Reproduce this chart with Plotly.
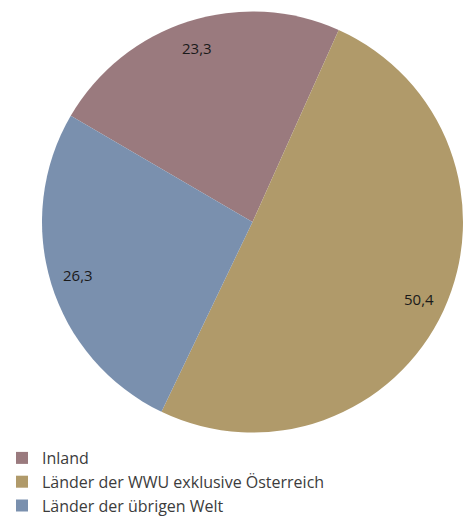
import math
import plotly.graph_objects as go

labels = ["Inland", "Länder der WWU exklusive Österreich", "Länder der übrigen Welt"]
values = [23.3, 50.4, 26.3]
text_labels = ["23,3", "50,4", "26,3"]
colors = ["#9a7a7e", "#b09a6a", "#7a90ae"]

W, H = 463, 523
rotation = 300.3  # start angle (degrees clockwise from top) of first slice

CX, CY, R = 253, 222, 211  # pie centre / radius in px (from top-left)
dom_x = [(CX - R) / W, min(1.0, (CX + R) / W)]
dom_y = [1 - (CY + R) / H, 1 - (CY - R) / H]

fig = go.Figure()
fig.add_trace(go.Pie(
    labels=labels, values=values, sort=False, direction="clockwise",
    rotation=rotation, marker=dict(colors=colors, line=dict(width=0)),
    textinfo="none", hoverinfo="label+value",
    domain=dict(x=dom_x, y=dom_y),
))

# value labels near outer rim at mid-angle of each slice
total = sum(values)
start = rotation
for v, t in zip(values, text_labels):
    mid = math.radians(start + v / total * 360 / 2)
    start += v / total * 360
    r = 0.865 * R
    px = CX + r * math.sin(mid)
    py = (H - CY) + r * math.cos(mid)
    fig.add_annotation(x=px / W, y=py / H, xref="paper", yref="paper",
                       xanchor="center", yanchor="middle",
                       text=t, showarrow=False,
                       font=dict(size=15, color="#1a1a1a", family="Open Sans"))

fig.update_layout(
    width=W, height=H,
    margin=dict(l=0, r=0, t=0, b=0),
    paper_bgcolor="white", plot_bgcolor="white",
    font=dict(family="Open Sans", size=16, color="#3c3c3c"),
    showlegend=True,
    legend=dict(x=2 / W, y=0.0, xanchor="left", yanchor="bottom",
                traceorder="normal", font=dict(size=16, color="#3c3c3c"),
                itemwidth=30, tracegroupgap=0),
)

fig.write_html("out.html", config={"displayModeBar": False},
               post_script="document.body.style.margin='0';")
